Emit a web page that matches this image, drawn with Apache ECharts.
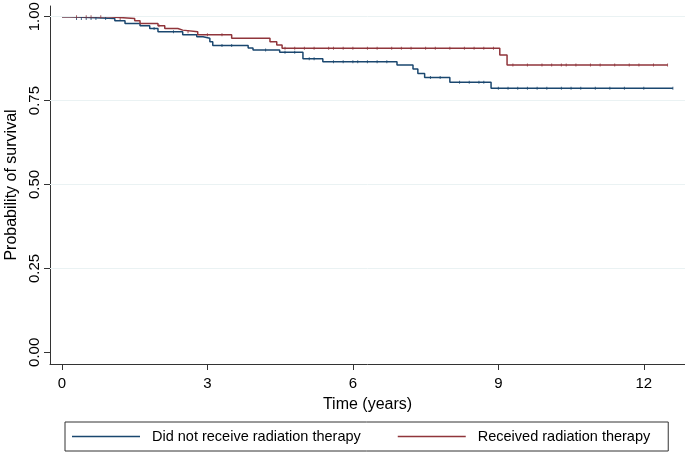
<!DOCTYPE html>
<html><head><meta charset="utf-8">
<script src="https://cdn.jsdelivr.net/npm/echarts@6/dist/echarts.min.js"></script>
<style>html,body{margin:0;padding:0;background:#fff}#c{width:685px;height:459px}</style>
</head><body><div id="c"></div>
<script>
// ---- data ----
const xTicks = [0, 3, 6, 9, 12];
const yTicks = [0, 0.25, 0.5, 0.75, 1];
const yTickLabels = ['0.00', '0.25', '0.50', '0.75', '1.00'];
const seriesNames = ['Did not receive radiation therapy', 'Received radiation therapy'];

const noRadTimes = [0, 0.16, 1.09, 1.30, 1.61, 1.81, 1.98, 2.49, 2.78, 2.91, 3.05, 3.11, 3.84, 3.94, 4.49, 4.97, 5.38, 6.91, 7.24, 7.34, 7.48, 8.00, 8.85, 12.6];
const noRadSurv  = [1.0, 0.995, 0.988, 0.980, 0.973, 0.965, 0.955, 0.946, 0.940, 0.936, 0.925, 0.914, 0.907, 0.901, 0.894, 0.875, 0.866, 0.856, 0.844, 0.831, 0.819, 0.805, 0.787, 0.787];

const radTimes = [0, 0.95, 1.50, 1.61, 1.98, 2.12, 2.39, 2.49, 2.80, 3.50, 4.29, 4.43, 4.54, 9.03, 9.18, 12.49];
const radSurv  = [1.0, 0.995, 0.988, 0.980, 0.973, 0.965, 0.960, 0.955, 0.946, 0.936, 0.925, 0.916, 0.906, 0.886, 0.856, 0.856];

const noRadCensor = [0.3, 0.4, 0.5, 0.6, 0.7, 0.9, 1.9, 2.3, 3.3, 3.5, 4.2, 4.6, 4.8, 5.1, 5.2, 5.6, 5.8, 6.0, 6.1, 6.3, 6.5, 6.7, 7.6, 7.8, 8.2, 8.4, 8.6, 8.7, 9.0, 9.2, 9.4, 9.6, 9.8, 10.0, 10.3, 10.5, 10.7, 11.0, 11.3, 11.6, 12.0, 12.6];
const radCensor = [0.3, 0.5, 0.6, 0.8, 1.2, 2.0, 2.6, 3.0, 3.3, 4.6, 4.8, 5.0, 5.2, 5.5, 5.6, 5.8, 6.0, 6.3, 6.5, 6.8, 7.0, 7.2, 7.5, 7.7, 8.0, 8.3, 8.5, 8.7, 8.9, 9.3, 9.6, 9.9, 10.1, 10.3, 10.4, 10.6, 10.9, 11.1, 11.4, 11.7, 11.9, 12.2, 12.49];

// ---- helpers ----
function pairs(t, s) { return t.map((v, i) => [v, s[i]]); }
function survAt(times, surv, t) {
  let v = surv[0];
  for (let i = 0; i < times.length; i++) { if (times[i] <= t) v = surv[i]; }
  return v;
}
const BLUE = '#1a476f', RED = '#90353b';
const FONT = 'Liberation Sans, Arial, sans-serif';

const chart = echarts.init(document.getElementById('c'), null, {renderer: 'canvas'});
chart.setOption({
  animation: false,
  backgroundColor: '#fff',
  grid: {left: 50, right: 0, top: 6, bottom: 95, containLabel: false, outerBoundsMode: 'none'},
  xAxis: {
    type: 'value', min: -0.247, max: 12.85,
    name: 'Time (years)', nameLocation: 'middle', nameGap: 33,
    nameTextStyle: {fontSize: 16, color: '#000', fontFamily: FONT},
    axisLine: {show: true, onZero: false, lineStyle: {color: '#333', width: 1}},
    axisTick: {show: true, length: 6, customValues: xTicks, lineStyle: {color: '#333'}},
    axisLabel: {customValues: xTicks, fontSize: 15, color: '#000', margin: 12, fontFamily: FONT},
    splitLine: {show: false}
  },
  yAxis: {
    type: 'value', min: -0.0349, max: 1.0319,
    name: 'Probability of survival', nameLocation: 'middle', nameGap: 29,
    nameTextStyle: {fontSize: 16, color: '#000', fontFamily: FONT},
    axisLine: {show: true, onZero: false, lineStyle: {color: '#333', width: 1}},
    axisTick: {show: true, length: 6, customValues: yTicks, lineStyle: {color: '#333'}},
    axisLabel: {customValues: yTicks, rotate: 90, fontSize: 15, color: '#000', margin: 8, fontFamily: FONT,
      formatter: v => { const i = yTicks.findIndex(t => Math.abs(t - v) < 1e-6); return i >= 0 ? yTickLabels[i] : ''; }},
    splitLine: {show: false}
  },
  legend: {
    left: 65, top: 422,
    data: seriesNames.map(n => ({name: n, icon: 'rect'})),
    itemWidth: 68, itemHeight: 1.5, itemGap: 37,
    borderColor: '#333', borderWidth: 1, borderRadius: 0,
    padding: [7, 18, 7, 7],
    textStyle: {fontSize: 14.5, color: '#000', fontFamily: FONT, padding: [0, 0, 0, 7]}
  },
  series: [
    {
      name: seriesNames[0], type: 'line', step: 'end', data: pairs(noRadTimes, noRadSurv),
      showSymbol: false, color: BLUE, lineStyle: {color: BLUE, width: 1.5}, z: 3,
      markLine: {
        silent: true, symbol: 'none', label: {show: false},
        lineStyle: {color: '#eaf2f3', width: 1, type: 'solid'},
        data: yTicks.filter(v => v > 0).map(v => ({yAxis: v}))
      }
    },
    {
      name: seriesNames[1], type: 'line', step: 'end', data: pairs(radTimes, radSurv),
      showSymbol: false, color: RED, lineStyle: {color: RED, width: 1.5}, z: 4
    },
    {
      name: 'noRadCensor', type: 'scatter', symbol: 'rect', symbolSize: [1, 3],
      itemStyle: {color: BLUE}, z: 5, silent: true,
      data: noRadCensor.map(t => [t, survAt(noRadTimes, noRadSurv, t)])
    },
    {
      name: 'radCensor', type: 'scatter', symbol: 'rect', symbolSize: [1, 3],
      itemStyle: {color: RED}, z: 5, silent: true,
      data: radCensor.map(t => [t, survAt(radTimes, radSurv, t)])
    }
  ]
});
</script>
</body></html>
